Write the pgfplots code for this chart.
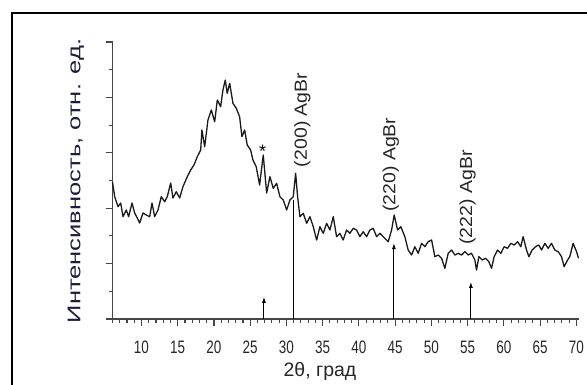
\documentclass[border=0pt]{standalone}
\usepackage{fontspec}
\usepackage{graphicx}
\usepackage{pgfplots}
\pgfplotsset{compat=1.18}
\usetikzlibrary{arrows.meta}
\setmainfont{Liberation Sans}
\newfontfamily\narrowfont[FakeStretch=0.75]{Liberation Sans}
\definecolor{axgray}{RGB}{70,70,70}
\definecolor{ylab}{RGB}{28,28,60}
\pgfplotstableread{
x y
6.00 2.473
6.30 2.208
6.76 2.027
7.13 2.094
7.45 1.847
7.90 1.968
8.23 1.847
8.69 2.094
9.06 1.913
9.42 1.823
9.75 1.733
10.21 1.913
10.66 1.877
11.13 1.847
11.45 2.094
11.82 1.847
12.28 1.968
12.73 2.208
13.20 2.117
13.56 2.208
14.03 2.455
14.34 2.184
14.80 2.298
15.27 2.184
15.72 2.388
16.32 2.569
16.79 2.690
17.24 2.780
17.70 2.930
18.17 3.051
18.34 3.412
18.72 3.110
19.17 3.592
19.63 3.773
20.10 3.561
20.46 3.953
20.92 3.832
21.24 4.134
21.56 4.314
21.83 4.074
22.17 4.255
22.62 3.894
23.08 3.803
23.54 3.652
23.86 3.291
24.23 3.412
24.59 3.141
25.06 3.051
25.38 2.870
25.83 2.749
26.30 2.419
26.80 2.960
27.27 2.274
27.72 2.569
28.18 2.359
28.65 2.449
29.10 2.208
29.56 2.148
30.03 1.968
30.48 2.148
30.94 2.208
31.27 2.630
31.54 2.208
31.86 1.847
32.32 1.908
32.79 1.727
33.24 1.847
33.70 1.666
34.17 1.426
34.62 1.666
35.08 1.547
35.54 1.727
36.00 1.606
36.46 1.847
36.92 1.486
37.38 1.547
37.83 1.426
38.30 1.606
38.76 1.547
39.21 1.637
39.68 1.606
40.14 1.486
40.59 1.576
41.06 1.486
41.52 1.606
41.97 1.637
42.44 1.486
42.90 1.547
43.35 1.486
44.04 1.395
44.51 1.606
44.87 1.877
45.34 1.606
45.79 1.666
46.34 1.486
46.80 1.245
47.27 1.155
47.72 1.305
48.18 1.186
48.65 1.366
49.10 1.305
49.56 1.395
50.03 1.426
50.48 1.125
50.94 1.155
51.41 1.096
51.86 0.915
52.32 1.186
52.79 1.245
53.24 1.155
53.70 1.186
54.17 1.155
54.62 1.215
55.08 1.155
55.54 1.186
56.00 1.065
56.23 0.884
56.55 1.125
57.01 1.065
57.48 1.096
57.93 1.034
58.30 0.915
58.66 1.125
59.13 1.245
59.59 1.186
60.04 1.305
60.51 1.276
60.97 1.366
61.42 1.336
61.89 1.395
62.34 1.305
62.66 1.486
63.13 1.245
63.45 1.125
63.90 1.245
64.37 1.305
64.83 1.336
65.20 1.245
65.66 1.366
66.11 1.276
66.58 1.366
67.03 1.245
67.49 1.215
67.96 1.125
68.32 0.944
68.79 1.065
69.10 1.125
69.56 1.366
70.03 1.215
70.30 1.096
}\xrd
\begin{document}
\begin{tikzpicture}[x=1pt,y=1pt]
\path[use as bounding box] (0,0) rectangle (587,385);
\draw[line width=2pt] (12,0) -- (12,372) -- (587,372);
\begin{axis}[
  at={(112.5pt,66pt)}, anchor=south west, scale only axis,
  width=466pt, height=277pt,
  xmin=6, xmax=70.3, ymin=0, ymax=5,
  axis lines=left,
  x axis line style={-}, y axis line style={-},
  axis line style={axgray, line width=1.4pt},
  xtick={10,15,...,70}, minor xtick={6,...,70},
  ytick={0,...,5}, minor ytick={0.5,1.5,...,4.5}, yticklabels={},
  tick align=outside, major tick length=7pt, minor tick length=4pt,
  tick style={axgray, line width=1.1pt},
  /pgf/number format/assume math mode=true,
  xticklabel style={font=\narrowfont\fontsize{18}{18}\selectfont, text=black!85, inner sep=0pt, yshift=-15pt},
  clip=false,
]
\addplot[black!90, line width=1.3pt, line join=round] table[x=x,y=y] {\xrd};
\addplot[black, line width=1pt] coordinates {(31.03,0) (31.03,2.15)};
\addplot[black, line width=1pt, -{Latex[length=6pt,width=4pt]}] coordinates {(44.83,0) (44.83,1.37)};
\addplot[black, line width=1pt, -{Latex[length=6pt,width=4pt]}] coordinates {(26.9,0) (26.9,0.40)};
\addplot[black, line width=1pt, -{Latex[length=6pt,width=4pt]}] coordinates {(55.45,0) (55.45,0.67)};
\node[rotate=90, anchor=west, inner sep=0pt, font=\fontsize{19.5}{19.5}\selectfont, text=black!85] at (axis cs:32.2,2.74) {\scalebox{1}[0.9]{(200) AgBr}};
\node[rotate=90, anchor=west, inner sep=0pt, font=\fontsize{19.5}{19.5}\selectfont, text=black!85] at (axis cs:44.4,1.93) {\scalebox{1}[0.9]{(220) AgBr}};
\node[rotate=90, anchor=west, inner sep=0pt, font=\fontsize{19.5}{19.5}\selectfont, text=black!85] at (axis cs:55.0,1.34) {\scalebox{1}[0.9]{(222) AgBr}};
\node[anchor=base, inner sep=0pt, font=\fontsize{18}{18}\selectfont] at (axis cs:26.7,2.92) {*};
\end{axis}
\node[anchor=base, inner sep=0pt, font=\fontsize{19.5}{19.5}\selectfont, text=black!85] at (320,8) {2θ, град};
\node[rotate=90, inner sep=0pt, font=\fontsize{25.5}{25.5}\selectfont, text=ylab] at (76,204) {\scalebox{1}[0.72]{Интенсивность, отн. ед.}};
\end{tikzpicture}
\end{document}
